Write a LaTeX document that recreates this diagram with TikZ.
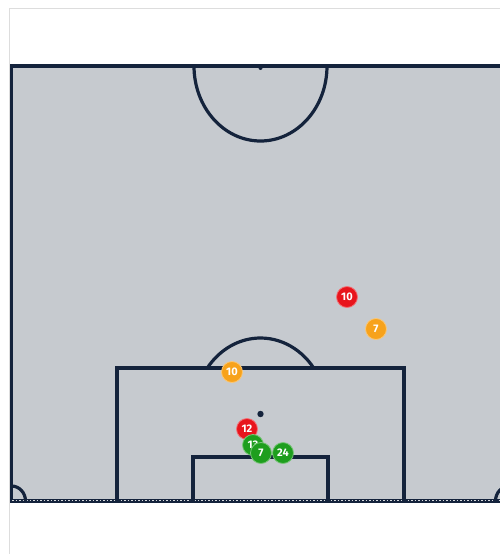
\documentclass[tikz,border=0pt]{standalone}
\usepackage{fontspec}
\setmainfont{Fira Sans}
\definecolor{pitch}{HTML}{C6CACF}
\definecolor{pline}{HTML}{14233C}
\definecolor{frame}{HTML}{DDDDDD}
\definecolor{pred}{HTML}{E8141C}
\definecolor{porange}{HTML}{F7A21B}
\definecolor{pgreen}{HTML}{1E9E1E}
\tikzset{
  pl/.style={draw=pline, line width=3.2pt},
  player/.style={circle, minimum size=21pt, inner sep=0pt, line width=0.8pt,
    text=white, font=\fontsize{11}{11}\selectfont\bfseries},
  redp/.style={player, fill=pred, draw=pred!60!white},
  orangep/.style={player, fill=porange, draw=porange!60!white},
  greenp/.style={player, fill=pgreen, draw=pgreen!60!white},
}
\begin{document}
\begin{tikzpicture}[x=1pt,y=-1pt]
\useasboundingbox (0,0) rectangle (500,554);
\fill[white] (0,0) rectangle (500,554);
\draw[frame, line width=1pt] (9,554) -- (9,8) -- (500,8);
\begin{scope}
\clip (0,0) rectangle (500,554);
\fill[pitch] (11.5,66) rectangle (509.5,501);
% outer lines
\draw[pl] (11.5,501) -- (11.5,66) -- (509.5,66) -- (509.5,501);
\draw[pl] (10,501) -- (511,501);
\draw[pitch!70!white, line width=0.7pt, dash pattern=on 1.5pt off 2pt] (12,500) -- (500,500);
% centre circle
\draw[pl] (327,66) arc[start angle=0, end angle=180, x radius=66.5, y radius=75];
\fill[pline] (260.5,68) circle[radius=2];
% penalty box
\draw[pl] (117,501) -- (117,368) -- (404,368) -- (404,501);
% goal area
\draw[pl] (193,501) -- (193,457) -- (328,457) -- (328,501);
% penalty arc
\draw[pl] (313.7,368) arc[start angle=-36.87, end angle=-143.13, x radius=66.5, y radius=75];
\fill[pline] (260.5,414) circle[radius=3.2];
% corner arcs
\draw[pl] (25.5,501) arc[start angle=0, end angle=-90, x radius=14, y radius=15];
\draw[pl] (495.5,501) arc[start angle=180, end angle=270, x radius=14, y radius=15];
\end{scope}
% players
\node[redp] (r10) at (347,297) {10};
\node[orangep] (o7) at (376,329) {7};
\node[orangep] (o10) at (232,372) {10};
\node[redp] (r12) at (247,429) {12};
\node[greenp] (g13) at (253,445) {13};
\node[greenp] (g7) at (261,453) {7};
\node[greenp] (g24) at (283,453) {24};
\end{tikzpicture}
\end{document}
